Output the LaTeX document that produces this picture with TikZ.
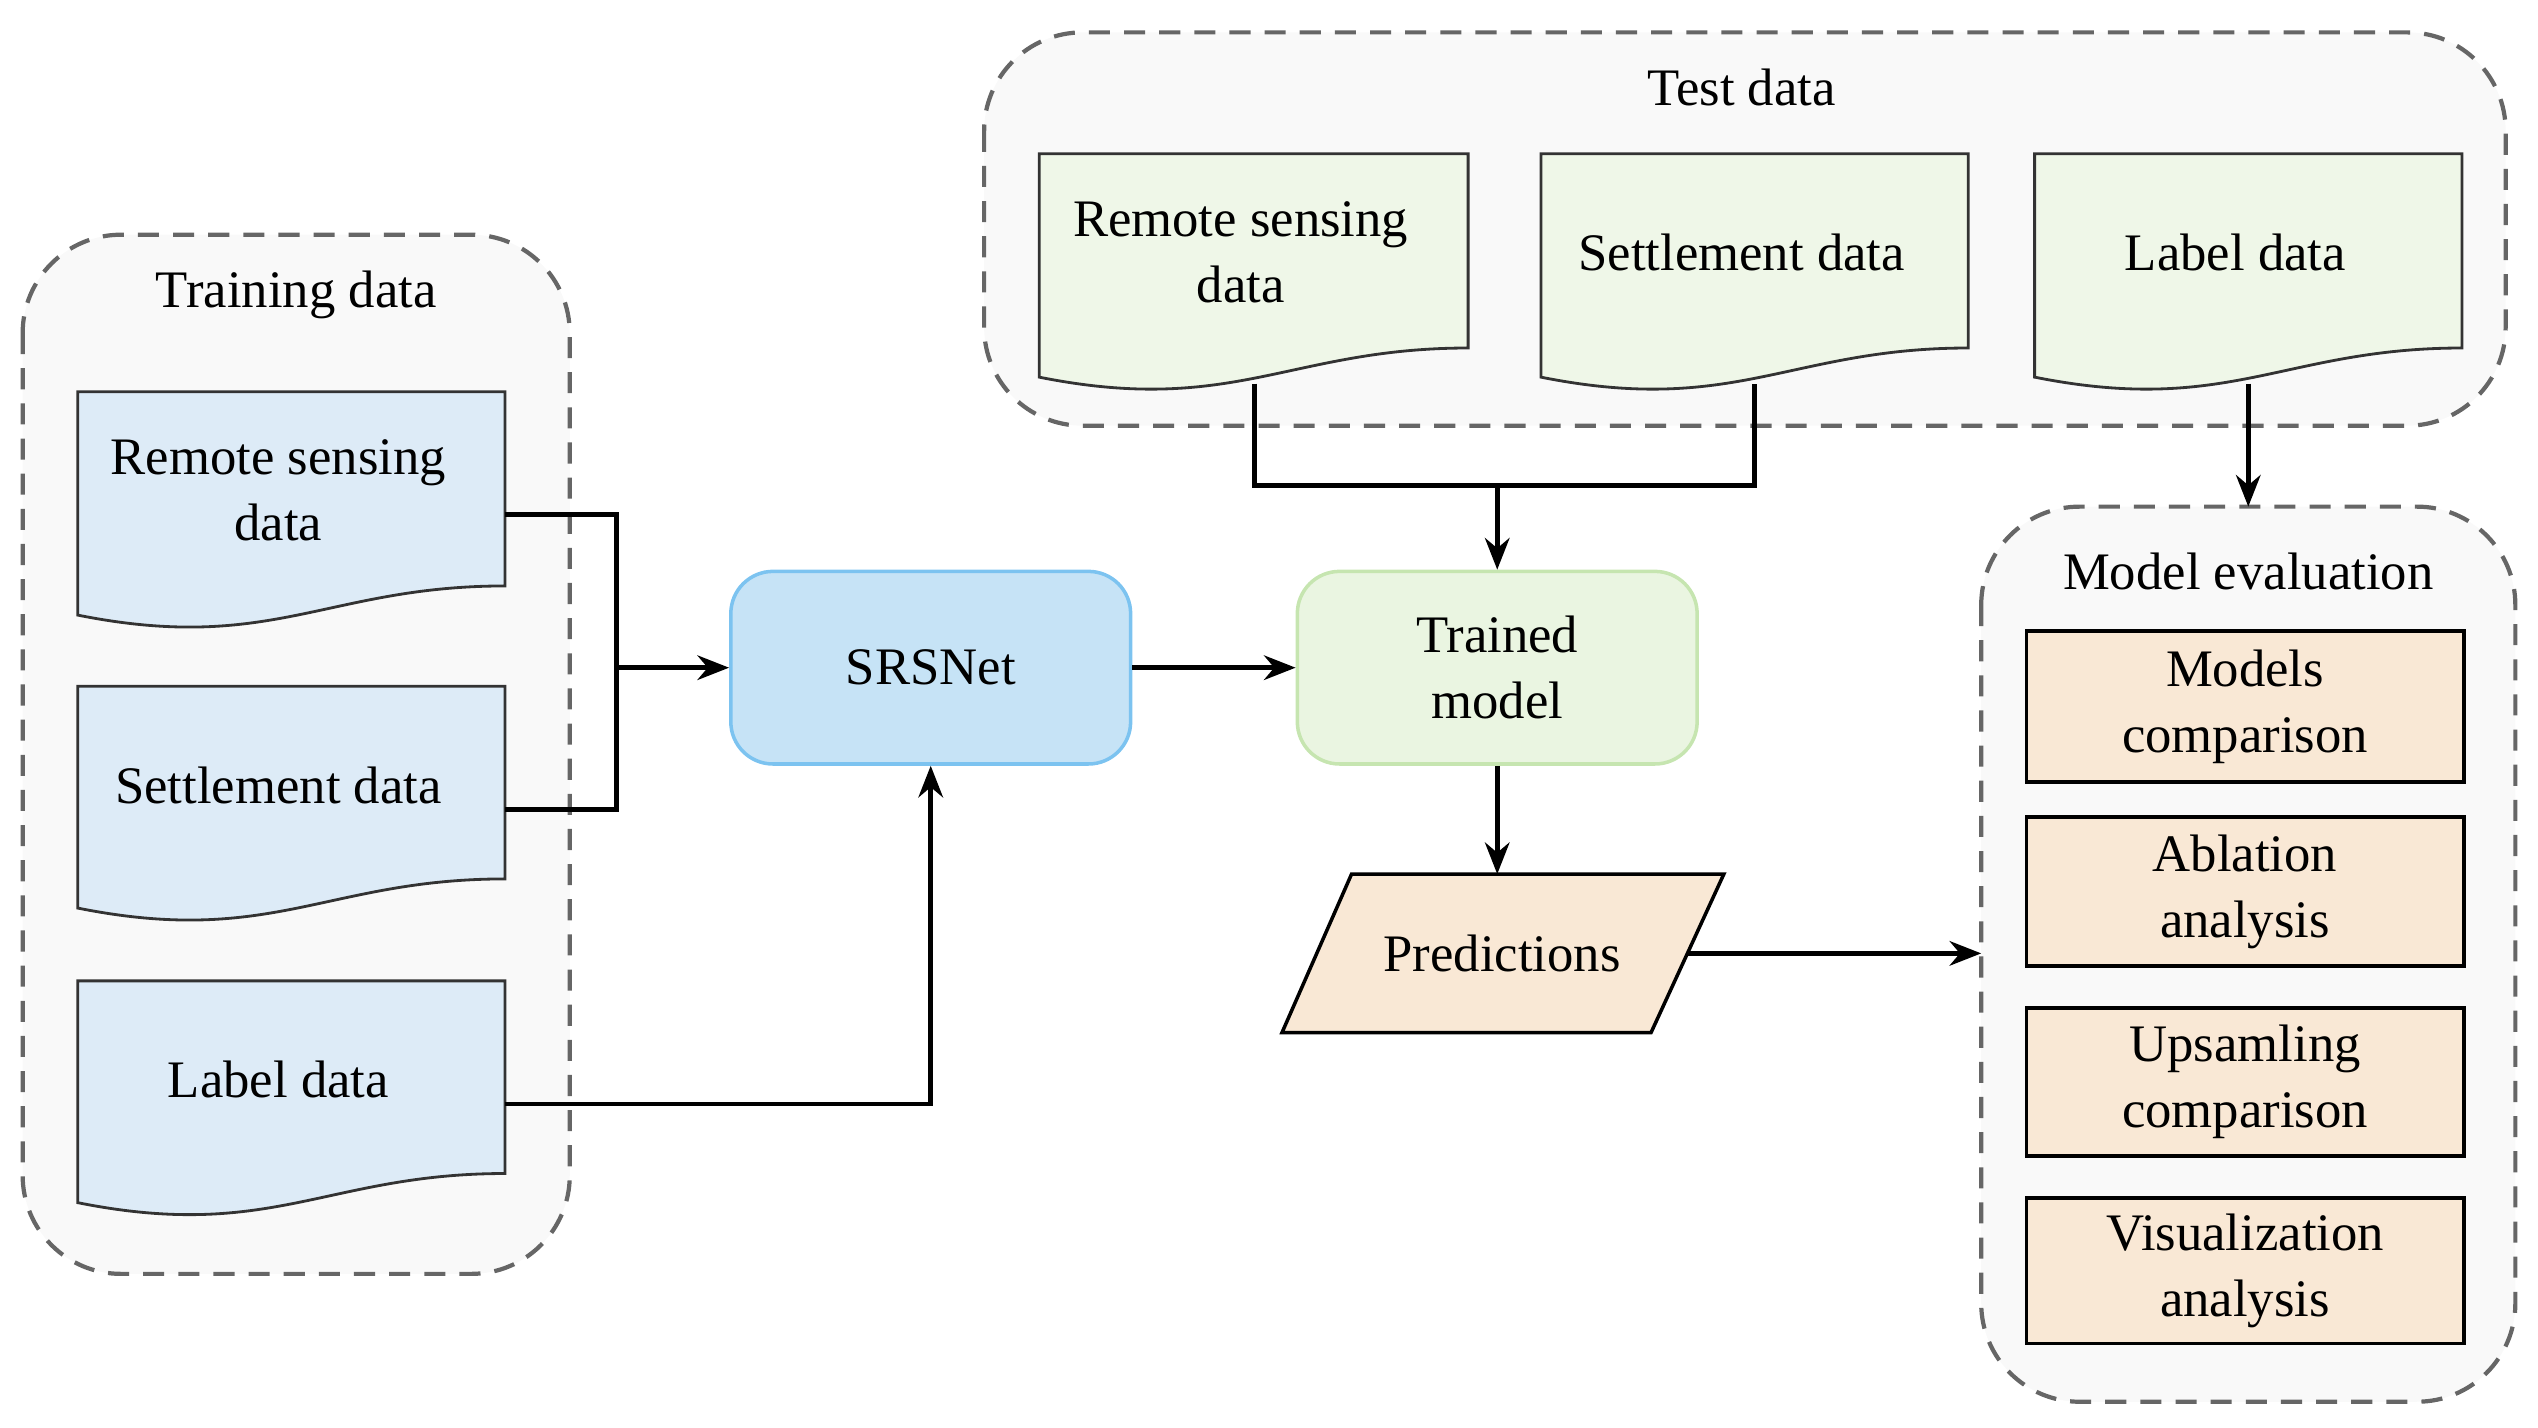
\documentclass[tikz,border=0pt]{standalone}
\usepackage{fontspec}
\setmainfont{Liberation Serif}
\usetikzlibrary{shapes.geometric,arrows.meta}
\definecolor{docblue}{HTML}{DDEBF7}
\definecolor{docgreen}{HTML}{EFF7E8}
\definecolor{tan}{HTML}{F9E8D5}
\definecolor{srsfill}{HTML}{C6E3F6}
\definecolor{srsdraw}{HTML}{7CC3F0}
\definecolor{trfill}{HTML}{EAF5E1}
\definecolor{trdraw}{HTML}{C6E5B0}
\definecolor{grpfill}{HTML}{F9F9F9}
\tikzset{
  grp/.style={draw=black!60,dashed,line width=1.2pt,fill=grpfill,rounded corners=28pt,dash pattern=on 6pt off 4pt},
  doc/.style={draw=black!80,line width=0.8pt},
  txt/.style={font=\fontsize{15}{18.8}\selectfont,align=center},
  box/.style={draw=black,line width=1.1pt,fill=tan,minimum width=270*0.01619cm,txt},
  conn/.style={line width=1.3pt},
  arr/.style={conn,-{Stealth[length=9pt,width=7pt]}}
}
\newcommand\docshape[7]{%
  \draw[doc,fill=#5] (#1,#2) -- (#3,#2) -- (#3,{#4-30}) .. controls ({#3-110},{#4-30}) and ({#1+120},{#4+12}) .. (#1,{#4-12}) -- cycle;
  \node[txt] (#6) at ({(#1+#3)/2-8},{#2+61}) {#7};
  \coordinate (#6r) at (#3,{#2+76});
}
\begin{document}
\begin{tikzpicture}[x=0.01619cm,y=-0.01619cm]
\useasboundingbox (0,0) rectangle (1568,882);
% groups
\draw[grp] (14,145) rectangle (352,787);
\node[txt] (trt) at (183,182) {Training data};
\draw[grp] (608,20) rectangle (1548,263);
\node[txt] (tet) at (1076,54) {Test data};
\draw[grp] (1224,313) rectangle (1554,866);
\node[txt] (met) at (1389,353) {Model evaluation};
% training docs
\docshape{48}{242}{312}{392}{docblue}{trs}{Remote sensing\\data}
\docshape{48}{424}{312}{573}{docblue}{tse}{Settlement data}
\docshape{48}{606}{312}{755}{docblue}{tla}{Label data}
\coordinate (trsr) at (312,318);
\coordinate (tser) at (312,500);
\coordinate (tlar) at (312,682);
% test docs
\docshape{642}{95}{907}{245}{docgreen}{ers}{Remote sensing\\data}
\docshape{952}{95}{1216}{245}{docgreen}{ese}{Settlement data}
\docshape{1257}{95}{1521}{245}{docgreen}{ela}{Label data}
\coordinate (ersb) at (775,237);
\coordinate (eseb) at (1084,237);
\coordinate (elab) at (1389,237);
% main nodes
\node[txt,draw=srsdraw,fill=srsfill,line width=1pt,rounded corners=12pt,minimum width=247*0.01619cm,minimum height=119*0.01619cm] (srs) at (575,412.5) {SRSNet};
\node[txt,draw=trdraw,fill=trfill,line width=1pt,rounded corners=12pt,minimum width=247*0.01619cm,minimum height=119*0.01619cm] (trm) at (925,412.5) {Trained\\model};
\draw[line width=1pt,fill=tan] (792,638) -- (835,540) -- (1065,540) -- (1020,638) -- cycle;
\node[txt] (pre) at (928,589) {Predictions};
\coordinate (prer) at (1043,589);
% eval boxes
\node[box,minimum height=93*0.01619cm] (b1) at (1387,436.5) {Models\\comparison};
\node[box,minimum height=92*0.01619cm] (b2) at (1387,551) {Ablation\\analysis};
\node[box,minimum height=91*0.01619cm] (b3) at (1387,668.5) {Upsamling\\comparison};
\node[box,minimum height=90*0.01619cm] (b4) at (1387,785) {Visualization\\analysis};
% connectors
\coordinate (j1) at (381,412.5);
\draw[conn] (trsr) -| (j1) |- (tser);
\draw[arr] (j1) -- (srs.west);
\draw[arr] (tlar) -| (srs.south);
\draw[arr] (srs.east) -- (trm.west);
\coordinate (j2) at (925,300);
\draw[conn] (ersb) |- (j2) -| (eseb);
\draw[arr] (j2) -- (trm.north);
\coordinate (metop) at (1389,313);
\draw[arr] (elab) -- (metop);
\coordinate (prt) at (925,540);
\draw[arr] (trm.south) -- (prt);
\coordinate (mel) at (1224,589);
\draw[arr] (prer) -- (mel);
\end{tikzpicture}
\end{document}
